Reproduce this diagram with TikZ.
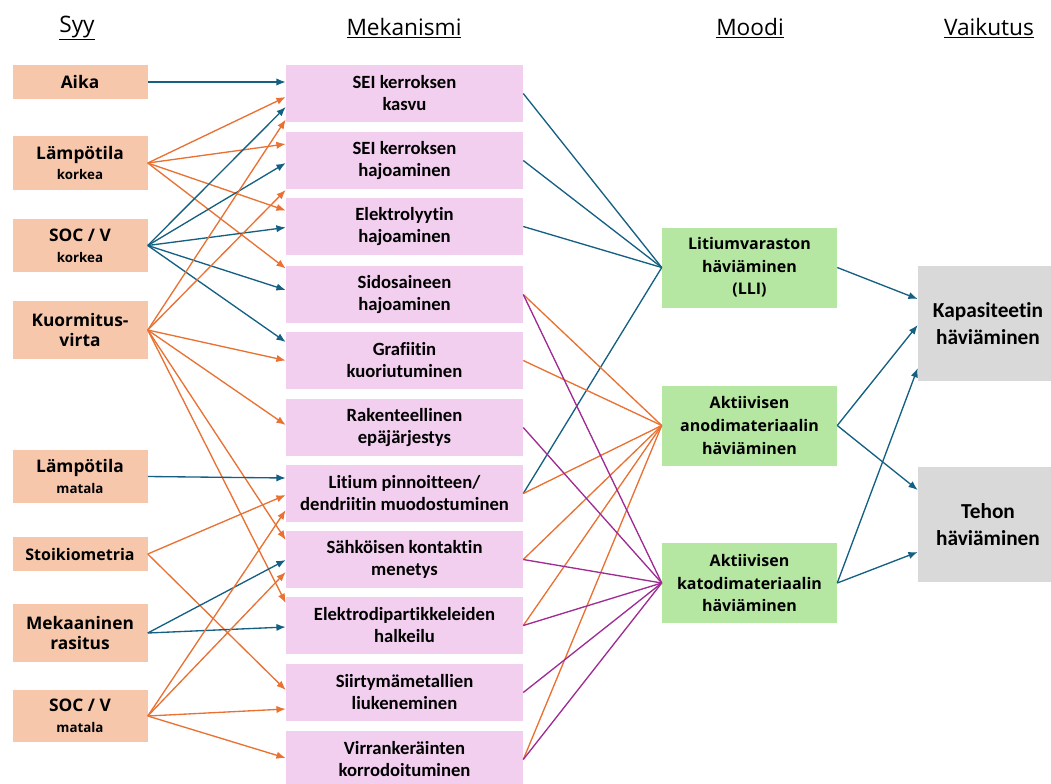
\documentclass[tikz,border=0pt]{standalone}
\usepackage{fontspec}
\setmainfont{Open Sans}
\newfontfamily\mechfont[Ligatures={NoCommon,NoDiscretionary,NoRare}]{Carlito}
\usetikzlibrary{calc,arrows.meta}
\definecolor{causefill}{HTML}{F7C7AC}
\definecolor{mechfill}{HTML}{F2CEEF}
\definecolor{modefill}{HTML}{B5E6A2}
\definecolor{effectfill}{HTML}{D9D9D9}
\definecolor{arrblue}{HTML}{156082}
\definecolor{arrorange}{HTML}{E97132}
\definecolor{arrpurple}{HTML}{A02B93}
\newcommand{\subtxt}[1]{{\fontsize{10}{12}\selectfont #1}}
\begin{document}
\begin{tikzpicture}[%
      x=0.75pt,y=-0.75pt,
      cause/.style={rectangle,fill=causefill,align=center,inner sep=0pt,minimum width=101.25pt,font=\bfseries\fontsize{13}{15.5}\selectfont},
      mech/.style={rectangle,fill=mechfill,align=center,inner sep=0pt,minimum width=177.75pt,minimum height=42.75pt,font=\mechfont\bfseries\fontsize{14}{16.5}\selectfont},
      mode/.style={rectangle,fill=modefill,align=center,inner sep=0pt,minimum width=131.25pt,minimum height=60pt,font=\bfseries\fontsize{12}{17}\selectfont},
      effect/.style={rectangle,fill=effectfill,align=center,inner sep=0pt,minimum width=105pt,minimum height=86.25pt,font=\mechfont\bfseries\fontsize{16}{20}\selectfont},
      head/.style={font=\fontsize{17}{20}\selectfont},
      barrow/.style={draw=arrblue,line width=1pt,-{Latex[length=7pt,width=5.5pt]}},
      oarrow/.style={draw=arrorange,line width=1pt,-{Latex[length=7pt,width=5.5pt]}},
      bline/.style={draw=arrblue,line width=1pt},
      oline/.style={draw=arrorange,line width=1pt},
      pline/.style={draw=arrpurple,line width=1pt}
      ]
      \useasboundingbox (0,0) rectangle (1051,783);
      % headers
      \draw (77,28) node[head] (hsyy) {\underline{Syy}};
      \draw (404,28) node[head] (hmek) {\underline{Mekanismi}};
      \draw (750,28) node[head] (hmoodi) {\underline{Moodi}};
      \draw (989,28) node[head] (hvaik) {\underline{Vaikutus}};
      % causes
      \draw (80,82) node[cause,minimum height=25.5pt] (aika) {Aika};
      \draw (80,163) node[cause,minimum height=40.5pt] (lampk) {Lämpötila\\\subtxt{korkea}};
      \draw (80,245.5) node[cause,minimum height=39.75pt] (sock) {SOC / V\\\subtxt{korkea}};
      \draw (80,330) node[cause,minimum height=43.5pt] (kuorm) {Kuormitus-\\virta};
      \draw (80,476.5) node[cause,minimum height=39.75pt] (lampm) {Lämpötila\\\subtxt{matala}};
      \draw (80,554) node[cause,minimum height=25.5pt,font=\bfseries\fontsize{12}{14}\selectfont] (stoik) {Stoikiometria};
      \draw (80,633) node[cause,minimum height=43.5pt] (mek) {Mekaaninen\\rasitus};
      \draw (80,716) node[cause,minimum height=39pt] (socm) {SOC / V\\\subtxt{matala}};
      % mechanisms
      \draw (404.5,93.5) node[mech] (m1) {SEI kerroksen\\kasvu};
      \draw (404.5,160.5) node[mech] (m2) {SEI kerroksen\\hajoaminen};
      \draw (404.5,226.5) node[mech] (m3) {Elektrolyytin\\hajoaminen};
      \draw (404.5,294.5) node[mech] (m4) {Sidosaineen\\hajoaminen};
      \draw (404.5,360.5) node[mech] (m5) {Grafiitin\\kuoriutuminen};
      \draw (404.5,427.5) node[mech] (m6) {Rakenteellinen\\epäjärjestys};
      \draw (404.5,493.5) node[mech] (m7) {Litium pinnoitteen/\\dendriitin muodostuminen};
      \draw (404.5,559.5) node[mech] (m8) {Sähköisen kontaktin\\menetys};
      \draw (404.5,625.5) node[mech] (m9) {Elektrodipartikkeleiden\\halkeilu};
      \draw (404.5,692.5) node[mech] (m10) {Siirtymämetallien\\liukeneminen};
      \draw (404.5,759.5) node[mech] (m11) {Virrankeräinten\\korrodoituminen};
      % modes
      \draw (749.5,267.5) node[mode] (lli) {Litiumvaraston\\häviäminen\\(LLI)};
      \draw (749.5,425.5) node[mode] (anode) {Aktiivisen\\anodimateriaalin\\häviäminen};
      \draw (749.5,583) node[mode] (cathode) {Aktiivisen\\katodimateriaalin\\häviäminen};
      % effects
      \draw (988,323.5) node[effect] (kap) {Kapasiteetin\\häviäminen};
      \draw (988,524.5) node[effect] (teho) {Tehon\\häviäminen};
      % causes -> mechanisms
      \draw[barrow] (aika.east) -- ($(m1.west)+(0,-11.5)$);
      \draw[oarrow] (lampk.east) -- ($(m1.west)+(0,3.5)$);
      \draw[oarrow] (lampk.east) -- ($(m2.west)+(0,-16.5)$);
      \draw[oarrow] (lampk.east) -- ($(m3.west)+(0,-16)$);
      \draw[oarrow] (lampk.east) -- ($(m4.west)+(0,-26)$);
      \draw[barrow] (sock.east) -- ($(m1.west)+(0,13.5)$);
      \draw[barrow] (sock.east) -- ($(m2.west)+(0,2.5)$);
      \draw[barrow] (sock.east) -- ($(m3.west)+(0,1)$);
      \draw[barrow] (sock.east) -- ($(m4.west)+(0,-4.5)$);
      \draw[barrow] (sock.east) -- ($(m5.west)+(0,-18.5)$);
      \draw[oarrow] (kuorm.east) -- ($(m1.west)+(0,26)$);
      \draw[oarrow] (kuorm.east) -- ($(m2.west)+(0,29.5)$);
      \draw[oarrow] (kuorm.east) -- (m5.west);
      \draw[oarrow] (kuorm.east) -- ($(m6.west)+(0,-2.5)$);
      \draw[oarrow] (kuorm.east) -- ($(m8.west)+(0,-19.5)$);
      \draw[oarrow] (kuorm.east) -- ($(m9.west)+(0,-22.5)$);
      \draw[barrow] (lampm.east) -- ($(m7.west)+(0,-15.5)$);
      \draw[oarrow] (stoik.east) -- ($(m7.west)+(0,1.5)$);
      \draw[oarrow] (stoik.east) -- ($(m10.west)+(0,-2.5)$);
      \draw[barrow] (mek.east) -- ($(m8.west)+(0,0.5)$);
      \draw[barrow] (mek.east) -- ($(m9.west)+(0,1.5)$);
      \draw[oarrow] (socm.east) -- ($(m7.west)+(0,16.5)$);
      \draw[oarrow] (socm.east) -- ($(m8.west)+(0,12.5)$);
      \draw[oarrow] (socm.east) -- ($(m10.west)+(0,16.5)$);
      \draw[oarrow] (socm.east) -- ($(m11.west)+(0,-1.5)$);
      % mechanisms -> modes
      \draw[bline] (m1.east) -- (lli.west);
      \draw[bline] (m2.east) -- (lli.west);
      \draw[bline] (m3.east) -- (lli.west);
      \draw[bline] (m7.east) -- (lli.west);
      \draw[oline] (m4.east) -- (anode.west);
      \draw[oline] (m5.east) -- (anode.west);
      \draw[oline] (m7.east) -- (anode.west);
      \draw[oline] (m8.east) -- (anode.west);
      \draw[oline] (m9.east) -- (anode.west);
      \draw[oline] (m11.east) -- (anode.west);
      \draw[pline] (m4.east) -- (cathode.west);
      \draw[pline] (m6.east) -- (cathode.west);
      \draw[pline] (m8.east) -- (cathode.west);
      \draw[pline] (m9.east) -- (cathode.west);
      \draw[pline] (m10.east) -- (cathode.west);
      \draw[pline] (m11.east) -- (cathode.west);
      % modes -> effects
      \draw[barrow] (lli.east) -- ($(kap.west)+(0,-24.5)$);
      \draw[barrow] (anode.east) -- ($(kap.west)+(0,1.5)$);
      \draw[barrow] (anode.east) -- ($(teho.west)+(0,-34.5)$);
      \draw[barrow] (cathode.east) -- ($(kap.west)+(0,44.5)$);
      \draw[barrow] (cathode.east) -- ($(teho.west)+(0,27.5)$);
    \end{tikzpicture}
\end{document}
